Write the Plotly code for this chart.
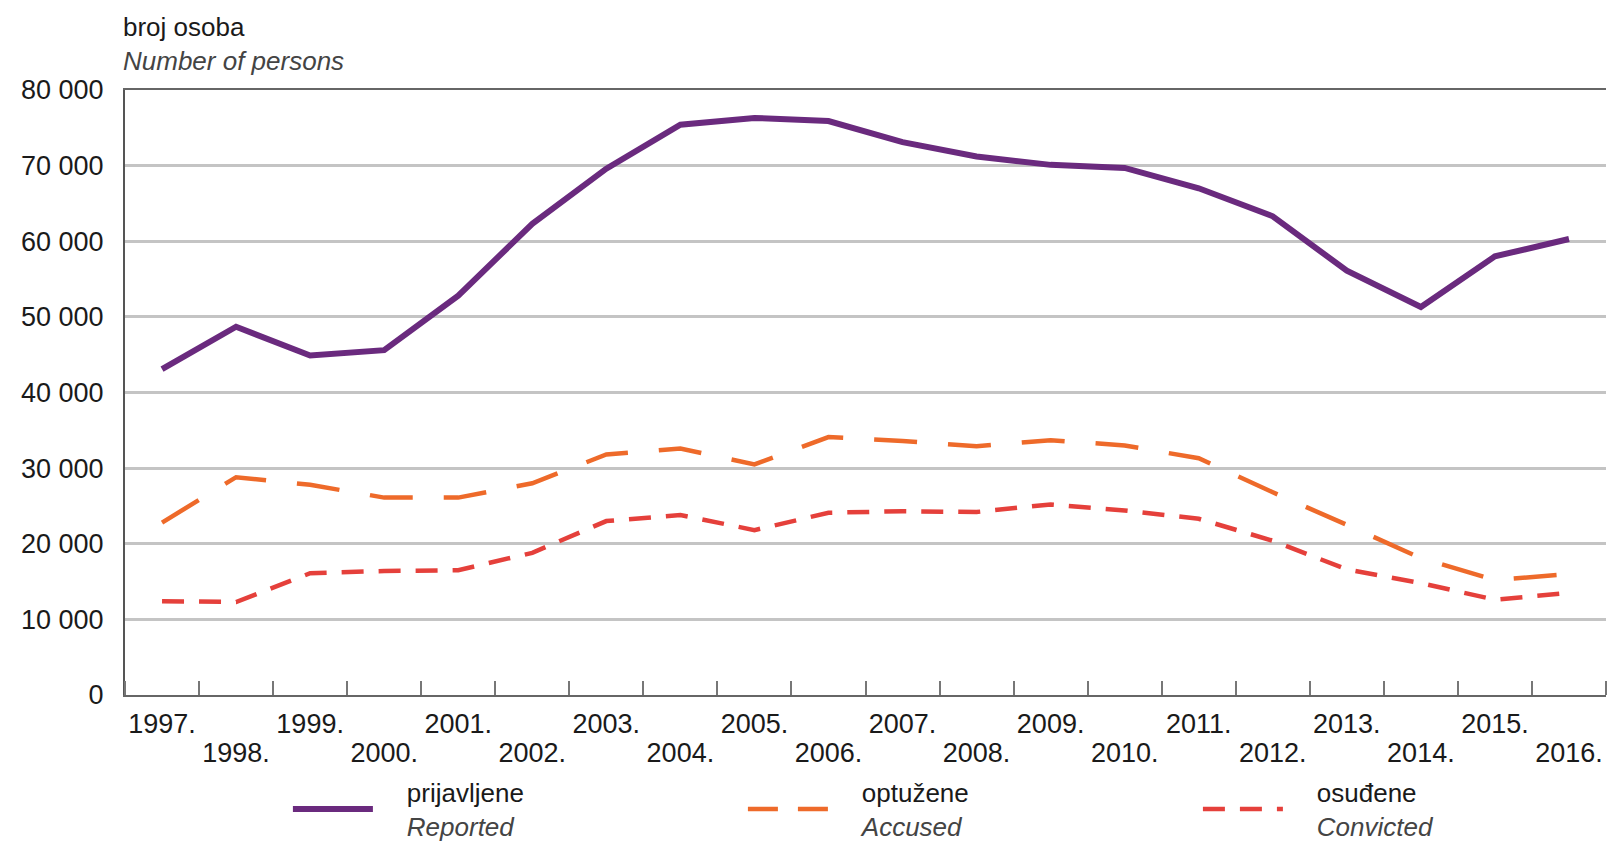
import plotly.graph_objects as go

# ---- data ----
years = list(range(1997, 2017))
year_labels = [f"{y}." for y in years]
reported = [43100, 48700, 44900, 45600, 52800, 62300, 69600, 75400, 76300, 75900,
            73100, 71200, 70100, 69700, 67000, 63300, 56100, 51300, 58000, 60300]
accused = [22800, 28800, 27800, 26100, 26100, 28000, 31800, 32600, 30500, 34100,
           33600, 32900, 33700, 33000, 31300, 26800, 22500, 18100, 15200, 16000]
convicted = [12400, 12300, 16100, 16400, 16500, 18800, 23000, 23800, 21800, 24100,
             24300, 24200, 25200, 24400, 23300, 20400, 16600, 14800, 12600, 13500]
PAD = "\u00a0\u00a0\u00a0\u00a0"
series_names = [f"{PAD}prijavljene<br>{PAD}<i><span style='color:#444'>Reported</span></i>",
                f"{PAD}optužene<br>{PAD}<i><span style='color:#444'>Accused</span></i>",
                f"{PAD}osuđene<br>{PAD}<i><span style='color:#444'>Convicted</span></i>"]
y_ticks = [0, 10000, 20000, 30000, 40000, 50000, 60000, 70000, 80000]
y_tick_labels = ["0", "10 000", "20 000", "30 000", "40 000", "50 000", "60 000", "70 000", "80 000"]
axis_title = "broj osoba<br><i><span style='color:#444'>Number of persons</span></i>"

FONT = "Liberation Sans, Arial, sans-serif"
TXT = "#1a1a1a"
C_REP, C_ACC, C_CON = "#6a2a7e", "#ee6a2a", "#e5403b"

fig = go.Figure()
fig.add_trace(go.Scatter(x=years, y=reported, mode="lines", name=series_names[0],
                         legendrank=1, line=dict(color=C_REP, width=6)))
fig.add_trace(go.Scatter(x=years, y=accused, mode="lines", name=series_names[1],
                         showlegend=False, legendgroup="acc",
                         line=dict(color=C_ACC, width=4.5, dash="43px,31px")))
# legend entry for the accused series (shorter dash so the key shows two dashes)
fig.add_trace(go.Scatter(x=[None], y=[None], mode="lines", name=series_names[1],
                         legendgroup="acc", legendrank=2, hoverinfo="skip",
                         line=dict(color=C_ACC, width=4.5, dash="30px,20px")))
fig.add_trace(go.Scatter(x=years, y=convicted, mode="lines", name=series_names[2],
                         xaxis="x2", legendrank=3,
                         line=dict(color=C_CON, width=4.5, dash="22px,15px")))

odd_vals = years[0::2]
odd_text = year_labels[0::2]
even_vals = years[1::2]
even_text = year_labels[1::2]

fig.update_layout(
    width=1609, height=842,
    margin=dict(l=125, r=3, t=90, b=147, autoexpand=False),
    paper_bgcolor="white", plot_bgcolor="white",
    font=dict(family=FONT, size=27, color=TXT),
    xaxis=dict(
        range=[1996.5, 2016.5], tickmode="array", tickvals=odd_vals, ticktext=odd_text,
        ticks="", showgrid=False, zeroline=False, automargin=False,
        showline=True, linecolor="#666", linewidth=2, mirror=True,
        ticklabelstandoff=4,
        minor=dict(tick0=1996.5, dtick=1, ticks="inside", ticklen=14,
                   tickcolor="#777", tickwidth=1.5, showgrid=False),
        tickfont=dict(family=FONT, size=27, color=TXT),
    ),
    xaxis2=dict(
        overlaying="x", matches="x", anchor="y", side="bottom",
        tickmode="array", tickvals=even_vals, ticktext=even_text,
        ticks="", showgrid=False, zeroline=False, showline=False, automargin=False,
        ticklabelstandoff=39,
        tickfont=dict(family=FONT, size=27, color=TXT),
    ),
    yaxis=dict(
        range=[0, 80000], tickmode="array", tickvals=y_ticks, ticktext=y_tick_labels,
        showgrid=True, gridcolor="#c4c4c4", gridwidth=2.5, automargin=False,
        zeroline=False, showline=True, linecolor="#555", linewidth=2,
        ticks="", ticklabelstandoff=14,
        tickfont=dict(family=FONT, size=27, color=TXT),
    ),
    legend=dict(
        orientation="h", x=0.110, xanchor="left", y=-0.122, yanchor="top",
        font=dict(family=FONT, size=26, color=TXT),
        itemwidth=80, entrywidth=360, entrywidthmode="pixels",
        bgcolor="rgba(0,0,0,0)", valign="middle", tracegroupgap=0,
        traceorder="normal",
    ),
    showlegend=True,
    annotations=[dict(
        text=axis_title, xref="paper", yref="paper", x=-0.0026, y=1, xanchor="left",
        yanchor="bottom", yshift=12, showarrow=False, align="left",
        font=dict(family=FONT, size=26, color=TXT),
    )],
)

fig.write_html(
    "out.html",
    config={"displayModeBar": False},
    post_script="document.body.style.margin='0';document.body.style.overflow='hidden';",
)
